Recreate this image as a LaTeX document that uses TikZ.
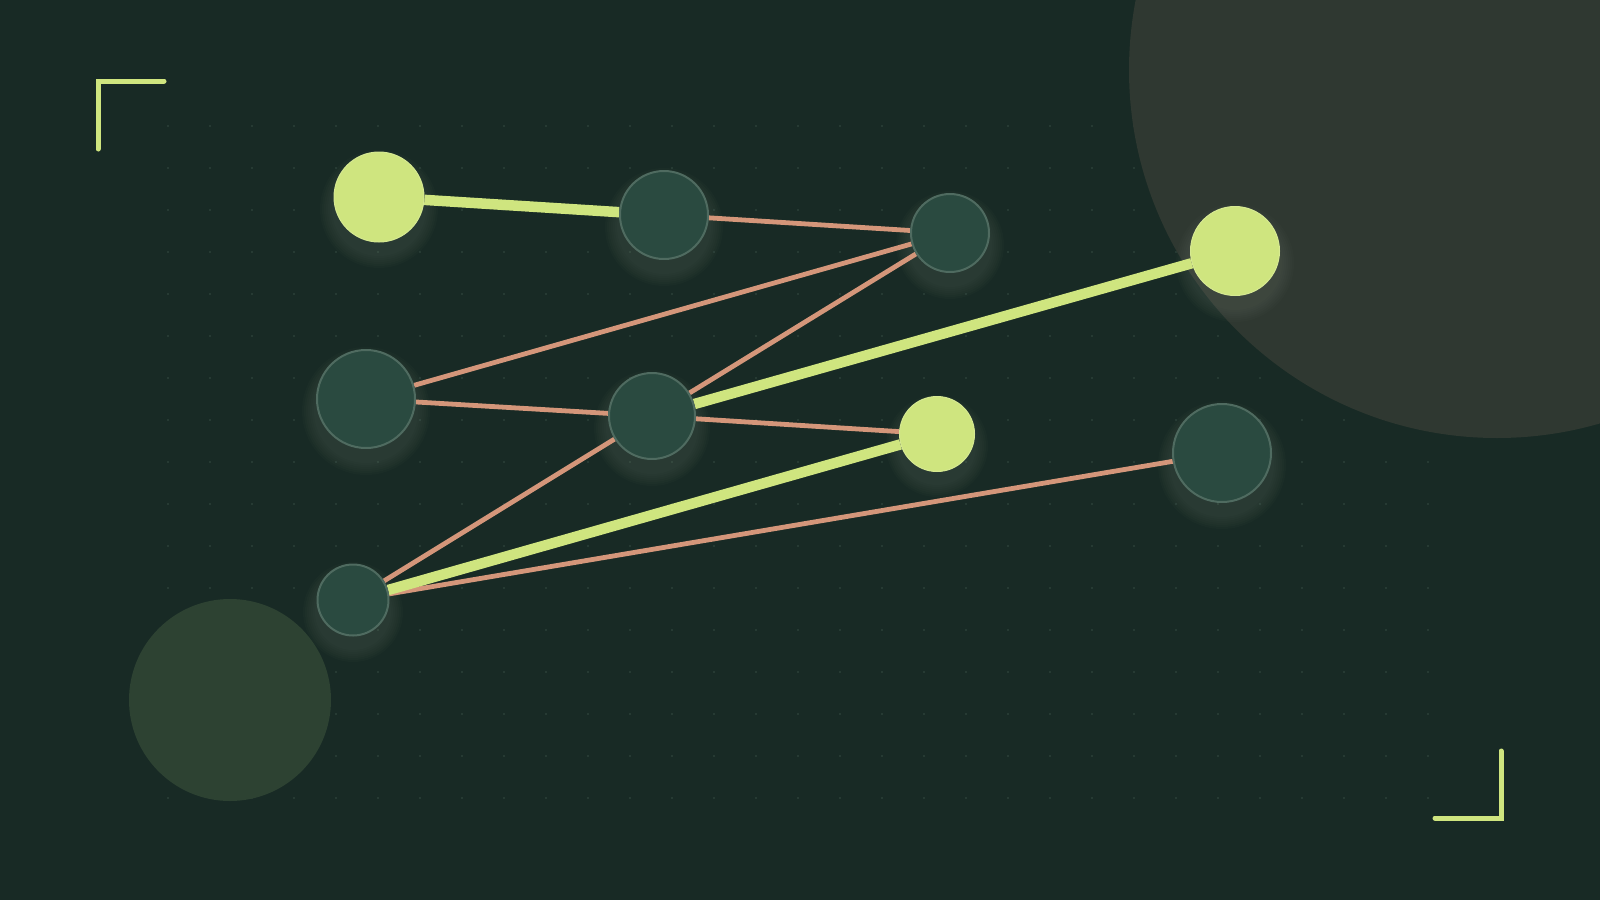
\documentclass[tikz,border=0pt]{standalone}
\usetikzlibrary{backgrounds}
\definecolor{bgc}{HTML}{182A25}
\definecolor{bigc}{HTML}{2F3831}
\definecolor{smallc}{HTML}{2D4232}
\definecolor{dotc}{HTML}{2C4039}
\definecolor{darkfill}{HTML}{2A4A40}
\definecolor{darkline}{HTML}{4F6B60}
\definecolor{limec}{HTML}{CFE57F}
\definecolor{salmonc}{HTML}{D4967A}
\definecolor{glowc}{HTML}{B8C8A0}
\pgfdeclarelayer{deco}
\pgfdeclarelayer{edges}
\pgfsetlayers{deco,edges,main}
\tikzset{
  darknode/.style={circle, inner sep=0pt, fill=darkfill, draw=darkline, line width=2pt},
  limenode/.style={circle, inner sep=0pt, fill=limec, draw=limec!85!white, line width=1pt},
  limeedge/.style={draw=limec, line width=10.5pt},
  salmonedge/.style={draw=salmonc, line width=4.8pt},
  bracket/.style={draw=limec, line width=5pt, line cap=round, line join=miter}
}
\newcommand{\myglow}[3]{%
  \foreach \k in {1,...,7}{\fill[glowc, opacity=0.02] (#1,#2+12) circle ({#3+2*\k});}}
\begin{document}
\begin{tikzpicture}[x=1pt,y=-1pt]
\begin{pgfonlayer}{deco}
\fill[bgc] (0,0) rectangle (1600,900);
\useasboundingbox (0,0) rectangle (1600,900);
\foreach \i in {0,...,30}{\foreach \j in {0,...,16}{\fill[dotc] (168+42*\i,126+42*\j) circle (1.1);}}
\begin{scope}
\clip (0,0) rectangle (1600,900);
\fill[bigc] (1497,70) circle (368);
\end{scope}
\fill[smallc] (230,700) circle (101);
\myglow{379}{197}{45}
\myglow{664}{215}{45}
\myglow{950}{233}{40}
\myglow{1235}{251}{45}
\myglow{366}{399}{50}
\myglow{652}{416}{44}
\myglow{937}{434}{37}
\myglow{1222}{453}{50}
\myglow{353}{600}{36}
\draw[bracket] (98,149) -- (98,81) -- (164,81);
\draw[bracket] (1501,751) -- (1501,818) -- (1435,818);
\end{pgfonlayer}
\node[limenode, minimum size=90pt] (n1) at (379,197) {};
\node[darknode, minimum size=88pt] (n2) at (664,215) {};
\node[darknode, minimum size=78pt] (n3) at (950,233) {};
\node[limenode, minimum size=89pt] (n4) at (1235,251) {};
\node[darknode, minimum size=98pt] (n5) at (366,399) {};
\node[darknode, minimum size=86pt] (n6) at (652,416) {};
\node[limenode, minimum size=75pt] (n7) at (937,434) {};
\node[darknode, minimum size=98pt] (n8) at (1222,453) {};
\node[darknode, minimum size=71pt] (n9) at (353,600) {};
\begin{pgfonlayer}{edges}
\draw[limeedge] (n1) -- (n2);
\draw[salmonedge] (n2) -- (n3);
\draw[salmonedge] (n5) -- (n3);
\draw[salmonedge] (n6) -- (n3);
\draw[salmonedge] (n5) -- (n6);
\draw[salmonedge] (n6) -- (n7);
\draw[salmonedge] (n9) -- (n6);
\draw[salmonedge] (n9) -- (n8);
\draw[limeedge] (n9) -- (n7);
\draw[limeedge] (n6) -- (n4);
\end{pgfonlayer}
\end{tikzpicture}
\end{document}
